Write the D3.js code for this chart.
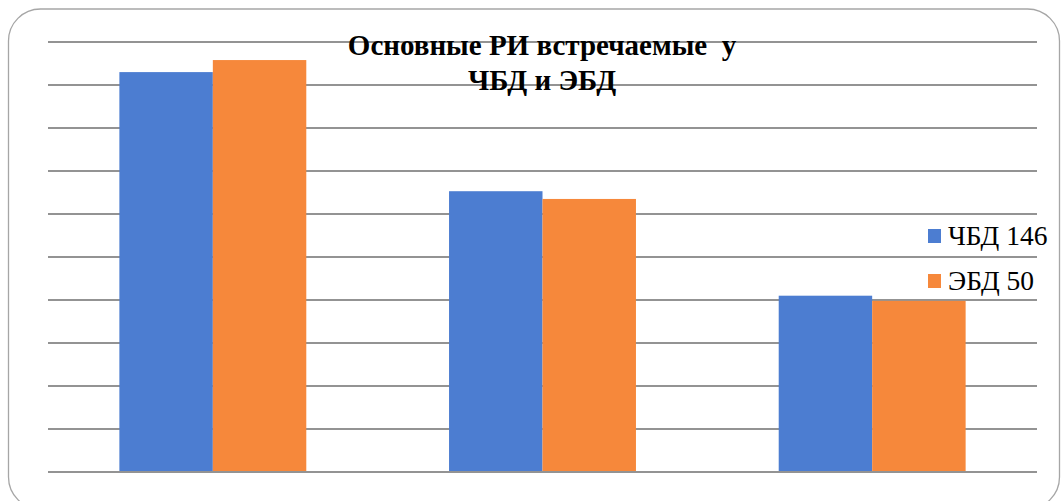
<!DOCTYPE html>
<html>
<head>
<meta charset="utf-8">
<script src="https://cdn.jsdelivr.net/npm/d3@7"></script>
<style>
  html, body { margin: 0; padding: 0; background: #fff; }
  svg { display: block; }
</style>
</head>
<body>
<div id="chart"></div>
<script>
// groups have no visible labels in the original
const categories = ['Группа 1', 'Группа 2', 'Группа 3'];
const seriesNames = ['ЧБД 146', 'ЭБД 50'];
const chbdValues = [93, 65.3, 41];
const ebdValues = [95.8, 63.5, 39.8];
const yTicks = [0, 10, 20, 30, 40, 50, 60, 70, 80, 90, 100];
const titleLines = ['Основные РИ встречаемые  у', 'ЧБД и ЭБД'];

const colors = ['#4c7dd1', '#f6883b'];
const fontName = 'Liberation Serif';
const width = 1062, height = 501;
const margin = { top: 42, right: 25, bottom: 29, left: 48 };

const svg = d3.select('#chart')
    .append('svg')
    .attr('width', width)
    .attr('height', height)
    .attr('font-family', fontName);

// outer frame
svg.append('rect')
    .attr('x', 8.5)
    .attr('y', 9)
    .attr('width', 1051)
    .attr('height', 500)
    .attr('rx', 32)
    .attr('fill', '#fff')
    .attr('stroke', '#a6a6a6')
    .attr('stroke-width', 1.3);

const x0 = d3.scaleBand()
    .domain(categories)
    .range([margin.left, width - margin.right])
    .paddingInner(0.433)
    .paddingOuter(0.2165);

const x1 = d3.scaleBand()
    .domain(seriesNames)
    .range([0, x0.bandwidth()]);

const y = d3.scaleLinear()
    .domain([0, 100])
    .range([height - margin.bottom, margin.top]);

// gridlines
svg.append('g')
    .selectAll('line')
    .data(yTicks)
    .join('line')
    .attr('x1', margin.left)
    .attr('x2', width - margin.right)
    .attr('y1', d => y(d))
    .attr('y2', d => y(d))
    .attr('stroke', '#939393')
    .attr('stroke-width', 2);

const rows = categories.map((c, i) => ({
    cat: c,
    vals: [chbdValues[i], ebdValues[i]]
}));

const groups = svg.append('g')
    .selectAll('g')
    .data(rows)
    .join('g')
    .attr('transform', d => `translate(${x0(d.cat)},0)`);

groups.selectAll('rect')
    .data(d => d.vals.map((v, j) => ({ name: seriesNames[j], v, j })))
    .join('rect')
    .attr('x', d => x1(d.name))
    .attr('y', d => y(d.v))
    .attr('width', x1.bandwidth())
    .attr('height', d => y(0) - y(d.v))
    .attr('fill', d => colors[d.j]);

// baseline on top
svg.append('line')
    .attr('x1', margin.left)
    .attr('x2', width - margin.right)
    .attr('y1', y(0))
    .attr('y2', y(0))
    .attr('stroke', '#939393')
    .attr('stroke-width', 2);

// title
const title = svg.append('text')
    .attr('x', 542)
    .attr('y', 55)
    .attr('text-anchor', 'middle')
    .style('font-family', fontName)
    .style('font-weight', 'bold')
    .style('font-size', '29px')
    .style('white-space', 'pre')
    .attr('fill', '#000');

title.selectAll('tspan')
    .data(titleLines)
    .join('tspan')
    .attr('x', 542)
    .attr('dy', (d, i) => i === 0 ? 0 : 35)
    .text(d => d);

// legend
const legend = svg.append('g')
    .selectAll('g')
    .data(seriesNames)
    .join('g')
    .attr('transform', (d, i) => `translate(928,${229 + i * 45})`);

legend.append('rect')
    .attr('width', 13)
    .attr('height', 14)
    .attr('fill', (d, i) => colors[i]);

legend.append('text')
    .attr('x', 20)
    .attr('y', 16)
    .style('font-family', fontName)
    .style('font-size', '27.5px')
    .attr('fill', '#000')
    .text(d => d);
</script>
</body>
</html>
